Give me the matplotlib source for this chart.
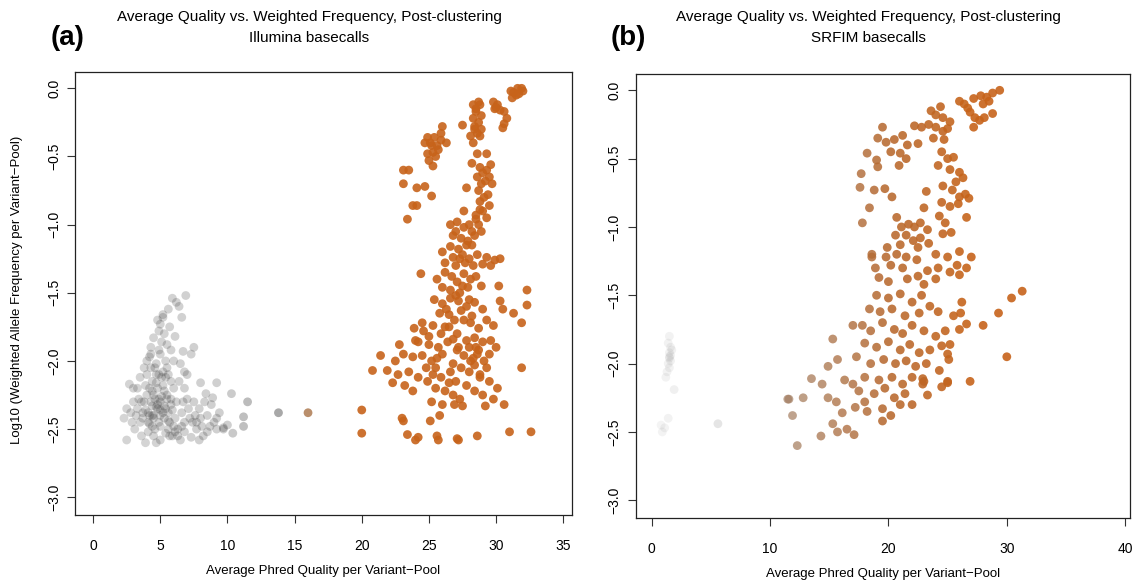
import numpy as np
import matplotlib
matplotlib.use("Agg")
import matplotlib.pyplot as plt
from matplotlib.colors import LinearSegmentedColormap, Normalize

plt.rcParams['font.family'] = ['Liberation Sans', 'DejaVu Sans']

# ---- panel (a): Illumina basecalls ----
a_gray_x = [6.9, 5.9, 6.2, 6.4, 5.6, 5.2, 6.6, 5.0, 4.9, 5.3, 4.5, 5.1, 4.9, 5.8, 7.5, 7.3, 6.7, 4.2, 3.8, 5.4,
            6.0, 6.5, 4.7, 6.8, 7.0, 5.6, 3.5, 2.7, 3.0, 3.3, 4.0, 4.4, 4.8, 5.2, 5.5, 6.0, 6.4, 6.8, 4.0, 4.3,
            4.6, 5.0, 5.4, 5.8, 6.2, 3.6, 2.5, 2.8, 3.2, 3.7, 4.1, 4.5, 4.9, 5.3, 5.7, 6.1, 6.6, 7.1, 7.5, 7.9,
            8.3, 8.8, 7.6, 8.0, 8.5, 9.0, 9.4, 9.7, 9.2, 8.7, 8.2, 7.7, 7.3, 6.8, 6.3, 5.9, 5.4, 5.0, 4.5, 4.1,
            3.6, 3.1, 2.5, 3.9, 4.7, 6.5, 7.9, 4.2, 4.8, 5.6, 3.9, 4.6, 5.2, 4.3, 5.7, 6.1, 5.8, 4.5, 5.0, 6.6,
            8.0, 9.2, 10.3, 11.5, 8.4, 8.9, 11.2, 11.2, 10.4, 9.7, 9.2, 13.8, 10.0, 8.5, 7.4, 6.0, 7.0, 6.8, 3.4, 2.3,
            4.4, 5.1, 4.7, 5.5, 4.2, 5.3, 4.9, 5.6, 4.4, 5.0,
            4.0, 4.3, 4.7, 5.1, 5.5, 3.8, 4.4, 4.9, 5.3, 5.8, 3.5, 4.1, 4.6, 5.0, 5.6, 6.1, 3.9, 4.4, 4.8, 5.2,
            5.9, 4.2, 4.7, 5.4, 3.3, 3.7, 4.5, 5.7, 6.3, 6.7, 7.2, 7.7, 8.1, 4.3, 5.0, 5.5, 4.8, 5.2, 3.0, 2.9]
a_gray_y = [-1.52, -1.54, -1.57, -1.60, -1.62, -1.66, -1.68, -1.73, -1.78, -1.80, -1.83, -1.86, -1.92, -1.92, -1.90, -1.95, -1.93, -1.97, -2.05, -2.00,
            -2.00, -2.02, -2.02, -2.08, -2.10, -2.10, -2.12, -2.17, -2.20, -2.20, -2.10, -2.15, -2.20, -2.18, -2.25, -2.20, -2.15, -2.20, -2.25, -2.30,
            -2.28, -2.30, -2.35, -2.32, -2.30, -2.30, -2.35, -2.38, -2.40, -2.42, -2.38, -2.42, -2.45, -2.42, -2.45, -2.42, -2.38, -2.35, -2.30, -2.35,
            -2.30, -2.32, -2.40, -2.42, -2.40, -2.45, -2.38, -2.50, -2.50, -2.48, -2.55, -2.50, -2.56, -2.52, -2.50, -2.55, -2.53, -2.58, -2.55, -2.52,
            -2.55, -2.50, -2.58, -2.60, -2.60, -2.58, -2.58, -2.46, -2.35, -2.38, -2.18, -2.05, -2.08, -1.90, -1.75, -1.82, -2.15, -2.25, -2.40, -2.48,
            -2.16, -2.16, -2.24, -2.30, -2.24, -2.27, -2.41, -2.48, -2.53, -2.49, -2.42, -2.38, -2.47, -2.52, -2.45, -2.48, -2.28, -2.45, -2.28, -2.42,
            -2.22, -2.26, -2.34, -2.28, -2.40, -2.33, -2.10, -2.44, -2.48, -2.36,
            -2.00, -2.05, -2.10, -2.12, -2.05, -2.30, -2.33, -2.28, -2.22, -2.28, -2.45, -2.45, -2.50, -2.48, -2.50, -2.52, -2.36, -2.40, -2.32, -2.38,
            -2.36, -2.20, -2.16, -2.12, -2.35, -2.38, -2.40, -2.55, -2.55, -2.30, -2.42, -2.45, -2.48, -1.95, -1.95, -1.88, -1.70, -1.68, -2.30, -2.45]

a_orange_x = [31.3, 31.6, 31.9, 31.5, 31.2, 32.0, 29.8, 30.1, 30.3, 29.9, 30.6, 30.8, 30.6, 30.5,
              28.3, 28.8, 28.5, 28.9, 28.3, 28.7, 28.4, 28.9, 28.6, 27.5, 28.1, 28.3, 26.0,
              24.9, 25.4, 25.9, 25.2, 25.7, 26.3, 24.9, 25.5, 25.0, 25.3, 23.1, 23.5, 23.1,
              24.1, 24.7, 25.2, 23.8, 24.1, 23.4, 27.8, 28.6, 29.3,
              28.2, 28.8, 29.3, 29.6, 28.6, 29.2, 29.7, 28.7, 29.4, 28.8, 29.5, 29.0, 28.5, 27.6, 28.8,
              26.6, 27.1, 27.6, 28.0, 28.5, 26.8, 27.4, 27.9, 28.4, 28.9, 26.6, 27.2, 28.2,
              26.0, 26.8, 27.5, 28.0, 28.6, 29.3, 29.9, 30.3,
              26.2, 27.0, 27.7, 28.3, 29.0, 29.6, 24.4,
              25.6, 26.2, 26.7, 27.1, 27.6, 28.1, 26.0, 26.6, 27.3, 27.9, 28.5, 28.9,
              32.3, 32.3, 30.3, 30.5, 31.3, 31.9,
              25.4, 26.0, 26.6, 27.2, 27.8, 28.4, 25.8, 26.5, 27.4, 28.2, 24.5,
              23.9, 24.6, 25.3, 25.9, 26.5, 27.1, 24.2, 25.0, 25.7, 26.4, 27.2,
              28.1, 28.7, 29.3, 29.8, 28.4, 29.0, 29.6, 28.0,
              21.4, 20.8, 23.1, 23.8, 24.5, 25.2, 25.6,
              27.1, 27.6, 28.1, 28.6, 29.1, 27.4, 28.0, 28.8, 29.3, 31.9,
              21.9, 22.7, 23.5, 24.2, 24.9, 22.3, 23.2,
              25.3, 25.9, 26.6, 27.0, 25.5, 26.2, 26.8, 27.3, 25.2, 26.0, 27.5, 23.8,
              28.8, 29.5, 30.1, 29.0, 29.8, 30.6, 29.2,
              23.1, 25.1, 23.0, 20.0, 20.0,
              23.4, 24.2, 25.6, 27.1, 28.6, 31.0, 32.6, 24.0, 25.7, 27.2, 16.0,
              28.5, 28.7, 28.4, 28.8, 30.0, 31.7, 31.1, 25.1, 25.6, 25.3, 24.7, 25.9,
              29.0, 28.9, 29.5, 29.1, 29.3, 28.7, 28.2, 27.8, 27.0, 27.3,
              27.5, 27.0, 26.3, 27.6, 26.8, 28.5, 28.7, 28.3, 28.4, 27.8, 26.0, 25.5, 24.8, 26.5, 27.8, 28.4,
              26.9, 25.8, 29.5, 30.0, 22.8, 22.5, 24.0, 26.8, 29.0, 28.0, 26.2, 30.2, 25.0, 26.9]
a_orange_y = [-0.03, 0.00, 0.00, -0.05, -0.07, -0.02, -0.10, -0.12, -0.16, -0.15, -0.17, -0.22, -0.26, -0.29,
              -0.12, -0.12, -0.17, -0.20, -0.22, -0.25, -0.28, -0.30, -0.33, -0.27, -0.35, -0.40, -0.28,
              -0.36, -0.36, -0.38, -0.42, -0.45, -0.40, -0.48, -0.50, -0.53, -0.57, -0.60, -0.60, -0.70,
              -0.73, -0.72, -0.79, -0.86, -0.86, -0.96, -0.73, -0.48, -0.48,
              -0.55, -0.58, -0.60, -0.56, -0.65, -0.68, -0.70, -0.75, -0.78, -0.83, -0.86, -0.90, -0.93, -0.90, -0.89,
              -1.00, -0.98, -1.02, -1.00, -0.96, -1.08, -1.10, -1.12, -1.08, -1.05, -1.16, -1.18, -1.15,
              -1.20, -1.24, -1.22, -1.25, -1.22, -1.24, -1.26, -1.25,
              -1.28, -1.30, -1.28, -1.30, -1.29, -1.30, -1.36,
              -1.40, -1.35, -1.38, -1.42, -1.36, -1.40, -1.46, -1.48, -1.50, -1.46, -1.38, -1.45,
              -1.48, -1.59, -1.56, -1.62, -1.65, -1.72,
              -1.55, -1.58, -1.54, -1.56, -1.60, -1.57, -1.65, -1.66, -1.63, -1.67, -1.72,
              -1.76, -1.78, -1.74, -1.80, -1.75, -1.80, -1.86, -1.88, -1.90, -1.86, -1.90,
              -1.72, -1.76, -1.70, -1.74, -1.83, -1.86, -1.85, -1.90,
              -1.96, -2.07, -1.95, -1.97, -1.96, -2.00, -1.98,
              -1.92, -1.96, -2.00, -1.95, -2.00, -2.05, -2.08, -2.10, -2.05, -2.05,
              -2.07, -2.10, -2.08, -2.12, -2.15, -2.16, -2.18,
              -2.10, -2.12, -2.08, -2.15, -2.20, -2.22, -2.25, -2.28, -2.30, -2.32, -2.33, -2.22,
              -2.12, -2.15, -2.20, -2.25, -2.28, -2.32, -2.33,
              -2.44, -2.44, -2.42, -2.36, -2.53,
              -2.54, -2.56, -2.55, -2.57, -2.55, -2.52, -2.52, -2.58, -2.58, -2.58, -2.38,
              -0.15, -0.10, -0.30, -0.35, -0.14, -0.04, -0.02, -0.40, -0.42, -0.47, -0.40, -0.33,
              -0.62, -0.70, -0.65, -0.80, -0.95, -1.00, -1.05, -1.15, -1.05, -1.25,
              -1.45, -1.52, -1.62, -1.70, -1.84, -1.90, -1.92, -1.98, -2.03, -1.85, -1.95, -2.05, -2.05, -2.16, -2.18, -2.22,
              -2.32, -2.40, -1.95, -1.90, -1.88, -2.00, -1.85, -2.02, -1.62, -1.55, -1.75, -1.45, -1.82, -1.70]

# ---- panel (b): SRFIM basecalls ----
b_gray_x = [1.5, 1.4, 1.6, 1.5, 1.7, 1.5, 1.6, 1.4, 1.5, 1.3, 1.2, 1.9, 1.4, 0.8, 0.9, 1.1, 5.6, 1.6, 1.5]
b_gray_y = [-1.80, -1.85, -1.88, -1.92, -1.90, -1.95, -1.98, -2.00, -2.03, -2.06, -2.10, -2.19, -2.40, -2.45,
            -2.50, -2.47, -2.44, -1.94, -1.96]

b_main_x = [27.2, 27.8, 28.3, 28.8, 29.4, 28.0, 28.5, 26.0, 26.4, 26.7, 26.9, 27.3, 27.7, 28.1, 28.8, 27.2,
            24.4, 23.6, 24.0, 24.6, 25.2, 23.4, 24.0, 24.6, 23.8, 24.7, 25.0, 22.2, 22.8, 19.5, 19.1,
            19.8, 20.5, 21.2, 21.6, 20.2, 21.0, 21.5, 20.9, 22.5, 18.2, 19.0, 19.1, 17.7, 17.6,
            18.8, 19.7, 20.3, 18.4, 17.8, 23.2, 23.0,
            24.5, 25.0, 25.5, 24.2, 25.2, 26.0, 25.7, 26.3, 24.6, 25.4, 26.0, 26.5, 24.5, 25.2, 25.9, 26.8,
            26.6, 20.7, 21.1, 21.7, 22.2, 22.7, 23.3, 21.5, 22.1, 22.7, 23.4, 20.6, 21.0, 22.5,
            24.3, 24.8, 25.3, 24.6, 19.9, 18.6,
            18.6, 19.8, 20.7, 21.5, 22.4, 24.0, 25.0, 26.0, 27.0, 18.9, 20.2, 21.2, 23.3, 24.2, 25.2, 25.8,
            26.6, 19.2, 20.0, 21.6, 22.5, 23.0, 24.0, 26.0,
            31.3, 30.4, 29.3, 30.0, 26.9,
            26.2, 26.1, 25.5, 26.6, 26.0, 28.0,
            19.0, 20.0, 21.0, 22.0, 22.8, 18.4, 19.3, 20.3, 21.4, 22.6, 23.5, 24.2,
            17.0, 17.8, 18.5, 19.5, 20.5, 21.2, 22.0, 23.0, 24.0, 24.8,
            18.0, 19.0, 20.0, 21.0, 21.8, 22.6, 23.5, 24.5, 25.2,
            17.3, 18.5, 19.6, 20.6, 21.5, 22.3, 23.2, 24.3, 25.1,
            18.0, 19.2, 20.3, 21.2, 22.0, 23.0, 25.0,
            15.3, 15.7, 14.9, 13.5, 14.4, 12.8, 11.5, 11.9, 12.3,
            14.9, 15.6, 16.1, 15.3, 15.7, 16.5, 17.1, 14.3,
            16.3, 17.0, 17.5, 18.0, 18.8, 19.7, 20.5, 21.4, 22.0, 17.2, 18.2, 19.5, 20.2, 21.0,
            19.5, 23.3, 22.9, 22.9, 24.5, 25.0, 25.0, 11.6]
b_main_y = [-0.06, -0.04, -0.05, -0.02, 0.00, -0.10, -0.08, -0.08, -0.10, -0.13, -0.16, -0.20, -0.22, -0.20, -0.17, -0.27,
            -0.12, -0.15, -0.18, -0.20, -0.23, -0.25, -0.27, -0.30, -0.35, -0.36, -0.28, -0.26, -0.27, -0.27, -0.35,
            -0.38, -0.36, -0.33, -0.40, -0.45, -0.46, -0.50, -0.55, -0.39, -0.46, -0.51, -0.56, -0.61, -0.71,
            -0.73, -0.72, -0.78, -0.86, -0.97, -0.74, -0.86,
            -0.45, -0.50, -0.49, -0.55, -0.58, -0.60, -0.67, -0.64, -0.70, -0.73, -0.78, -0.76, -0.82, -0.85, -0.83, -0.79,
            -0.93, -0.93, -1.00, -0.98, -1.00, -0.97, -1.02, -1.06, -1.10, -1.08, -1.12, -1.06, -1.13, -1.15,
            -0.92, -0.97, -1.04, -1.05, -1.15, -1.22,
            -1.20, -1.22, -1.20, -1.22, -1.24, -1.20, -1.22, -1.18, -1.22, -1.30, -1.28, -1.30, -1.32, -1.30, -1.33, -1.28,
            -1.30, -1.37, -1.40, -1.38, -1.36, -1.42, -1.38, -1.35,
            -1.47, -1.52, -1.63, -1.95, -2.13,
            -1.55, -1.63, -1.65, -1.71, -1.75, -1.72,
            -1.50, -1.52, -1.49, -1.55, -1.50, -1.60, -1.62, -1.60, -1.65, -1.63, -1.58, -1.62,
            -1.72, -1.72, -1.76, -1.70, -1.75, -1.78, -1.72, -1.76, -1.80, -1.76,
            -1.85, -1.88, -1.84, -1.90, -1.86, -1.92, -1.90, -1.87, -1.86,
            -1.95, -2.00, -1.97, -2.00, -1.98, -2.02, -2.00, -2.05, -1.97,
            -2.10, -2.12, -2.10, -2.15, -2.10, -2.13, -2.13,
            -1.82, -1.97, -2.02, -2.11, -2.15, -2.25, -2.26, -2.38, -2.60,
            -2.25, -2.28, -2.36, -2.44, -2.50, -2.48, -2.52, -2.53,
            -2.12, -2.15, -2.20, -2.28, -2.22, -2.18, -2.25, -2.22, -2.30, -2.32, -2.35, -2.33, -2.38, -2.30,
            -2.42, -2.23, -2.11, -2.15, -2.17, -2.14, -1.93, -2.26]

y_ticks = [0.0, -0.5, -1.0, -1.5, -2.0, -2.5, -3.0]
a_xticks = [0, 5, 10, 15, 20, 25, 30, 35]
b_xticks = [0, 10, 20, 30, 40]

title1 = 'Average Quality vs. Weighted Frequency, Post-clustering'
xlab = 'Average Phred Quality per Variant\u2212Pool'
ylab = 'Log10 (Weighted Allele Frequency per Variant\u2212Pool)'

orange = (0.78, 0.39, 0.10)
# grey (faint) -> orange ramps, positions in quality units / upper bound
ramp_a = LinearSegmentedColormap.from_list('qa', [
    (0.00, (0.22, 0.22, 0.22, 0.20)),
    (10 / 22, (0.22, 0.22, 0.22, 0.24)),
    (14 / 22, (0.42, 0.42, 0.42, 0.60)),
    (16 / 22, (0.66, 0.45, 0.28, 0.80)),
    (20 / 22, orange + (0.90,)),
    (1.00, orange + (0.90,)),
])
ramp_b = LinearSegmentedColormap.from_list('qb', [
    (0.00, (0.50, 0.50, 0.50, 0.07)),
    (5.6 / 30, (0.50, 0.50, 0.50, 0.20)),
    (12 / 30, (0.64, 0.48, 0.36, 0.70)),
    (20 / 30, (0.72, 0.41, 0.18, 0.88)),
    (27 / 30, orange + (0.90,)),
    (1.00, orange + (0.90,)),
])

fig = plt.figure(figsize=(11.41, 5.87), dpi=100)
axa = fig.add_axes([0.0657, 0.1227, 0.4356, 0.7547])
axb = fig.add_axes([0.5571, 0.1175, 0.4332, 0.7566])


def style(ax, xticks, xlim):
    ax.set_xlim(*xlim)
    ax.set_ylim(-3.13, 0.12)
    ax.set_xticks(xticks)
    ax.set_yticks(y_ticks)
    ax.set_yticklabels([('%.1f' % v).replace('-', '\u2212') for v in y_ticks], rotation=90, va='center')
    ax.tick_params(direction='out', length=6, width=0.8, labelsize=10, color='#333333')
    ax.tick_params(axis='x', pad=11)
    ax.tick_params(axis='y', pad=4)
    for s in ax.spines.values():
        s.set_linewidth(0.9)
        s.set_color('#222222')


na = Normalize(0, 22)
axa.scatter(a_gray_x, a_gray_y, c=a_gray_x, cmap=ramp_a, norm=na, s=40, edgecolors='none')
axa.scatter(a_orange_x, a_orange_y, c=a_orange_x, cmap=ramp_a, norm=na, s=40, edgecolors='none')
style(axa, a_xticks, (-1.35, 35.65))
axa.set_xlabel(xlab, fontsize=9.5, labelpad=9)

nb = Normalize(0, 30)
axb.scatter(b_gray_x, b_gray_y, c=b_gray_x, cmap=ramp_b, norm=nb, s=40, edgecolors='none')
axb.scatter(b_main_x, b_main_y, c=b_main_x, cmap=ramp_b, norm=nb, s=40, edgecolors='none')
style(axb, b_xticks, (-1.35, 40.4))
axb.set_xlabel(xlab, fontsize=9.5, labelpad=9)

fig.text(17 / 1141, 1 - 290 / 587, ylab, rotation=90, ha='center', va='center', fontsize=9.5)
fig.text(309 / 1141, 1 - 17 / 587, title1, ha='center', va='center', fontsize=11)
fig.text(309 / 1141, 1 - 38 / 587, 'Illumina basecalls', ha='center', va='center', fontsize=11)
fig.text(868 / 1141, 1 - 17 / 587, title1, ha='center', va='center', fontsize=11)
fig.text(868 / 1141, 1 - 38 / 587, 'SRFIM basecalls', ha='center', va='center', fontsize=11)
fig.text(68 / 1141, 1 - 38 / 587, '(a)', ha='center', va='center', fontsize=20, fontweight='bold')
fig.text(628 / 1141, 1 - 38 / 587, '(b)', ha='center', va='center', fontsize=20, fontweight='bold')

fig.savefig('out.png', dpi=100)
